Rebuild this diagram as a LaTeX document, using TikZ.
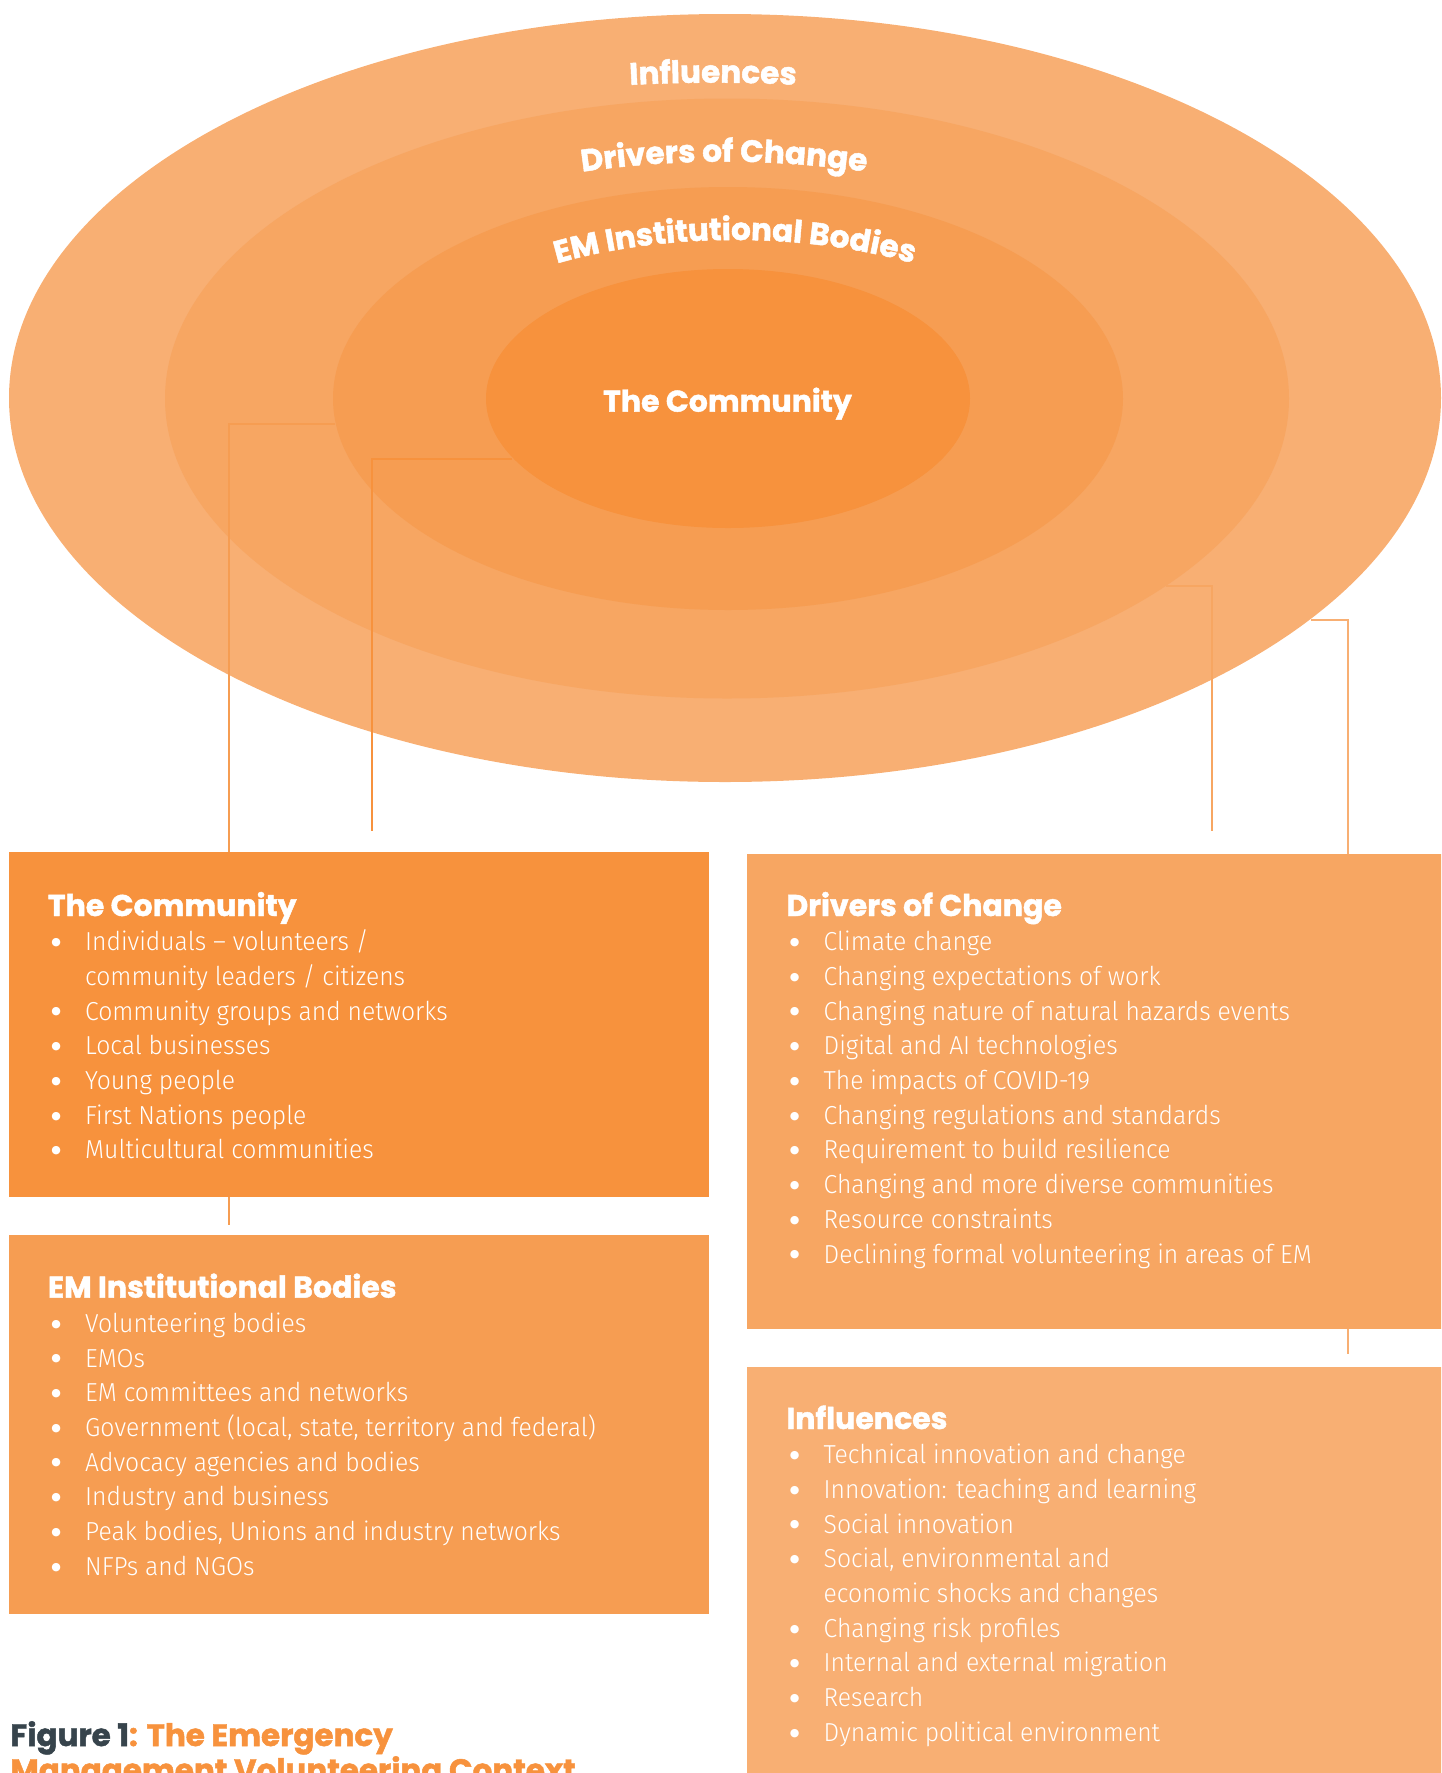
\documentclass[tikz,border=0pt]{standalone}
\usepackage{fontspec}
\usetikzlibrary{shapes.geometric,decorations.text}
\newfontfamily\bodyfont{Fira Sans}[UprightFont=* Light, FakeStretch=0.95]
\newfontfamily\headfont{Poppins}[BoldFeatures={FakeBold=1.5}]
\newfontfamily\symfont{DejaVu Sans}
\definecolor{cCom}{HTML}{F7923D}
\definecolor{cEM}{HTML}{F69D52}
\definecolor{cDrv}{HTML}{F7A662}
\definecolor{cInf}{HTML}{F8AF73}
\definecolor{cDark}{HTML}{37444C}
\newcommand\ringfnt{\headfont\bfseries\fontsize{15.5pt}{18pt}\selectfont\color{white}}
\newcommand\boxhead[1]{\par\hbox{\headfont\bfseries\fontsize{15pt}{17.35pt}\selectfont #1}}
\newcommand\blt{\raisebox{2.6pt}{\symfont\fontsize{5.5pt}{5.5pt}\selectfont ●}}
\newcommand\itm[1]{\par\hbox{\makebox[18.65pt][l]{\hspace{1.7pt}\blt}#1}}
\newcommand\cnt[1]{\par\hbox{\hspace{18.65pt}#1}}
\newcommand\listbox[1]{\parbox[t]{330pt}{\bodyfont\fontsize{13pt}{17.35pt}\selectfont\lineskiplimit=-100pt\lineskip=0pt\parindent=0pt #1}}
\begin{document}
\begin{tikzpicture}[x=0.5pt,y=-0.5pt,
  ring/.style={ellipse, inner sep=0pt, draw=none},
  panel/.style={rectangle, inner sep=0pt, anchor=north west, draw=none},
  conn/.style={line width=1pt},
  txt/.style={inner sep=0pt, anchor=base west, text=white}]
\useasboundingbox (0,0) rectangle (1441,1773);
\clip (0,0) rectangle (1441,1773);
% rings
\node[ring, fill=cInf, minimum width=716pt, minimum height=384pt] (ringInf) at (725,398) {};
\node[ring, fill=cDrv, minimum width=562pt, minimum height=300pt] (ringDrv) at (727,398.5) {};
\node[ring, fill=cEM, minimum width=395pt, minimum height=211.5pt] (ringEM) at (728,398.5) {};
\node[ring, fill=cCom, minimum width=242pt, minimum height=129.5pt] (ringCom) at (728,398.5) {};
% ring labels
\path[decorate, decoration={text along path, text align=center, text={|\ringfnt|Influences}}]
  (713,398) ++(235:700 and 315.3) arc[start angle=235, end angle=305, x radius=700, y radius=315.3];
\path[decorate, decoration={text along path, text align=center, text={|\ringfnt|Drivers of Change}}]
  (724,398) ++(225:490 and 236.3) arc[start angle=225, end angle=315, x radius=490, y radius=236.3];
\path[decorate, decoration={text along path, text align=center, text={|\ringfnt|EM Institutional Bodies}}]
  (735,398) ++(215:340 and 158) arc[start angle=215, end angle=325, x radius=340, y radius=158];
\node[inner sep=0pt, anchor=base, text=white, font=\headfont\bfseries\fontsize{15pt}{18pt}\selectfont] (comLabel) at (727.5,411.7) {The Community};
% connectors
\coordinate (emA) at (335,423.5); \coordinate (emB) at (229.3,1225);
\coordinate (comA) at (512,458.7); \coordinate (comB) at (372.3,831);
\coordinate (drvA) at (1166,586); \coordinate (drvB) at (1211.7,831);
\coordinate (infA) at (1311,620); \coordinate (infB) at (1348.3,1354);
\draw[conn, cEM] (emA) -| (emB);
\draw[conn, cCom] (comA) -| (comB);
\draw[conn, cDrv] (drvA) -| (drvB);
\draw[conn, cInf] (infA) -| (infB);
% boxes
\node[panel, fill=cCom, minimum width=350pt, minimum height=172.5pt] (boxCom) at (9,852) {};
\node[panel, fill=cEM, minimum width=350pt, minimum height=189.5pt] (boxEM) at (9,1235) {};
\node[panel, fill=cDrv, minimum width=350pt, minimum height=237.5pt] (boxDrv) at (747,854) {};
\node[panel, fill=cInf, minimum width=350pt, minimum height=210pt] (boxInf) at (747,1367) {};
% box texts
\node[txt] (comText) at (47.5,916) {\listbox{\boxhead{The Community}
  \itm{Individuals – volunteers /}\cnt{community leaders / citizens}
  \itm{Community groups and networks}\itm{Local businesses}\itm{Young people}
  \itm{First Nations people}\itm{Multicultural communities}}};
\node[txt] (drvText) at (786,916) {\listbox{\boxhead{Drivers of Change}
  \itm{Climate change}\itm{Changing expectations of work}
  \itm{Changing nature of natural hazards events}\itm{Digital and AI technologies}
  \itm{The impacts of COVID-19}\itm{Changing regulations and standards}
  \itm{Requirement to build resilience}\itm{Changing and more diverse communities}
  \itm{Resource constraints}\itm{Declining formal volunteering in areas of EM}}};
\node[txt] (emText) at (47.5,1297.6) {\listbox{\boxhead{EM Institutional Bodies}
  \itm{Volunteering bodies}\itm{EMOs}\itm{EM committees and networks}
  \itm{Government (local, state, territory and federal)}\itm{Advocacy agencies and bodies}
  \itm{Industry and business}\itm{Peak bodies, Unions and industry networks}\itm{NFPs and NGOs}}};
\node[txt] (infText) at (786,1429) {\listbox{\boxhead{Influences}
  \itm{Technical innovation and change}\itm{Innovation: teaching and learning}
  \itm{Social innovation}\itm{Social, environmental and}\cnt{economic shocks and changes}
  \itm{Changing risk profiles}\itm{Internal and external migration}\itm{Research}
  \itm{Dynamic political environment}}};
% caption
\node[txt] (caption) at (10,1746) {\parbox[t]{400pt}{\headfont\bfseries\fontsize{15.5pt}{17.5pt}\selectfont\lineskiplimit=-100pt\parindent=0pt
  \hbox{\textcolor{cDark}{Figure 1}\textcolor{cCom}{: The Emergency}}\par
  \hbox{\textcolor{cCom}{Management Volunteering Context}}}};
\end{tikzpicture}
\end{document}
